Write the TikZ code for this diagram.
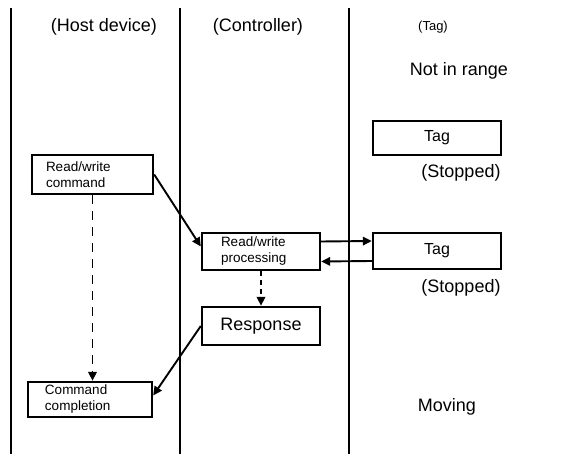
\documentclass[tikz,border=0pt]{standalone}
\usepackage{fontspec}
\setmainfont{Liberation Sans}
\usetikzlibrary{arrows.meta}

\begin{document}
\begin{tikzpicture}[x=1pt,y=-1pt,
        lane/.style={line width=2.2pt},
        box/.style={draw,line width=2.4pt,inner sep=0pt,align=left},
        smallbox/.style={box,font=\fontsize{13.5}{16}\selectfont},
        arr/.style={line width=1.9pt,-{Triangle[length=9pt,width=8.5pt]}},
        dasharr/.style={arr,dash pattern=on 9pt off 7pt},
        label/.style={anchor=base,font=\fontsize{18}{20}\selectfont}]
        \useasboundingbox (0,0) rectangle (566,454);
        \draw[lane] (11,8) -- (11,454);
        \draw[lane] (180,8) -- (180,454);
        \draw[lane] (349,8) -- (349,454);
        \node[label] (host) at (104,32) {(Host device)};
        \node[label] (ctrl) at (258,32) {(Controller)};
        \node[label,font=\fontsize{13}{15}\selectfont] (tagh) at (433,31) {(Tag)};
        \node[label] (far) at (459,76) {Not in range};
        \node[box,minimum width=128pt,minimum height=34pt,font=\fontsize{16}{18}\selectfont]
          (tag1) at (437,138) {Tag};
        \node[label] (stop1) at (461,178) {(Stopped)};
        \node[smallbox,minimum height=39pt,text width=93pt,inner xsep=14pt]
          (cmd) at (92.5,174.5) {Read/write\\command};
        \node[smallbox,minimum height=37pt,text width=80pt,inner xsep=19pt]
          (proc) at (261,251.5) {Read/write\\processing};
        \node[box,minimum width=128pt,minimum height=36pt,font=\fontsize{16}{18}\selectfont]
          (tag2) at (437,251) {Tag};
        \node[label] (stop2) at (461,293) {(Stopped)};
        \node[box,minimum width=118pt,minimum height=38pt,font=\fontsize{18}{20}\selectfont]
          (resp) at (261,326) {Response};
        \node[smallbox,minimum height=35pt,text width=90pt,inner xsep=17pt]
          (done) at (90,399.5) {Command\\completion};
        \node[label] (move) at (447,412) {Moving};
        \draw[arr] (cmd.east) -- ([yshift=5pt]proc.west);
        \draw[arr] ([yshift=10pt]proc.east) -- ([yshift=10pt]tag2.west);
        \draw[arr] ([yshift=-10pt]tag2.west) -- ([yshift=-10pt]proc.east);
        \draw[arr,dash pattern=on 5pt off 4pt] (proc.south) -- (resp.north);
        \draw[arr] (resp.west) -- ([yshift=4pt]done.east);
        \draw[dasharr] (cmd.south) -- (cmd.south |- done.north);
      \end{tikzpicture}
\end{document}
